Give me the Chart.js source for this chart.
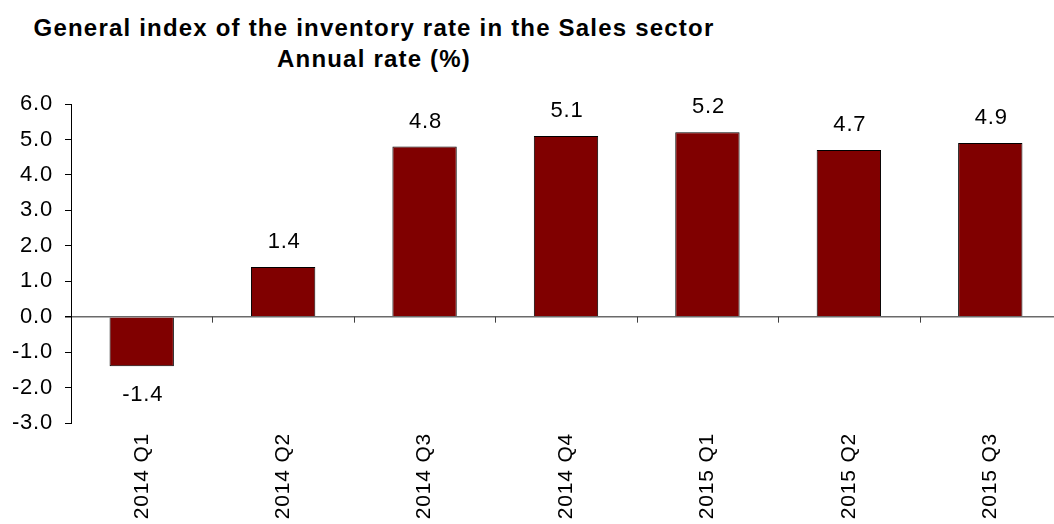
<!DOCTYPE html>
<html>
<head>
<meta charset="utf-8">
<script src="https://cdn.jsdelivr.net/npm/chart.js@4/dist/chart.umd.min.js"></script>
<style>
  html, body { margin: 0; padding: 0; background: #fff; }
  #wrap { position: relative; width: 1054px; height: 524px; }
  #title {
    position: absolute; left: 0; top: 12px; width: 748px;
    text-align: center; font-family: "Liberation Sans", Arial, sans-serif;
    font-weight: bold; font-size: 24px; line-height: 31px; color: #000;
    letter-spacing: 1.2px;
  }
  canvas { position: absolute; left: 0; top: 0; }
</style>
</head>
<body>
<div id="wrap">
  <div id="title">General index of the inventory rate in the Sales sector<br>Annual rate (%)</div>
  <canvas id="chart" width="1054" height="524"></canvas>
</div>
<script>
const categories = ["2014 Q1", "2014 Q2", "2014 Q3", "2014 Q4", "2015 Q1", "2015 Q2", "2015 Q3"];
const rateValues = [-1.4, 1.4, 4.8, 5.1, 5.2, 4.7, 4.9];
const yTicks = [-3, -2, -1, 0, 1, 2, 3, 4, 5, 6];

const FONT = { family: "'Liberation Sans', Arial, sans-serif", size: 22 };
const XFONT = { family: "'Liberation Sans', Arial, sans-serif", size: 21 };
const SPACING = "0.8px";
const OVERHANG = 7; // plot area runs a little past the right edge in the original

// wider text spacing, like the original rendering
const textSpacing = {
  id: "textSpacing",
  beforeUpdate(chart) { chart.ctx.letterSpacing = SPACING; },
  beforeDraw(chart) { chart.ctx.letterSpacing = SPACING; }
};

// let the category axis extend slightly past the canvas edge
const overhang = {
  id: "overhang",
  afterLayout(chart) {
    const xs = chart.scales.x;
    xs.right += OVERHANG;
    xs.width += OVERHANG;
    xs.configure();
    chart.chartArea.right += OVERHANG;
    chart.chartArea.width += OVERHANG;
  }
};

// value labels above / below each bar
const valueLabels = {
  id: "valueLabels",
  afterDatasetsDraw(chart) {
    const ctx = chart.ctx;
    const meta = chart.getDatasetMeta(0);
    ctx.save();
    ctx.font = `${FONT.size}px ${FONT.family}`;
    ctx.fillStyle = "#000";
    ctx.textAlign = "center";
    meta.data.forEach((bar, i) => {
      const v = rateValues[i];
      if (v >= 0) {
        ctx.textBaseline = "bottom";
        ctx.fillText(v.toFixed(1), bar.x + 1, bar.y - 14);
      } else {
        ctx.textBaseline = "top";
        ctx.fillText(v.toFixed(1), bar.x + 1, bar.y + 18);
      }
    });
    ctx.restore();
  }
};

// small tick marks between categories on the zero line
const zeroTicks = {
  id: "zeroTicks",
  afterDraw(chart) {
    const ctx = chart.ctx;
    const xs = chart.scales.x;
    const y0 = chart.scales.y.getPixelForValue(0);
    ctx.save();
    ctx.strokeStyle = "#404040";
    ctx.lineWidth = 1;
    for (let i = 1; i < categories.length; i++) {
      const x = Math.round((xs.getPixelForValue(i - 1) + xs.getPixelForValue(i)) / 2) + 0.5;
      ctx.beginPath();
      ctx.moveTo(x, y0);
      ctx.lineTo(x, y0 + 6);
      ctx.stroke();
    }
    ctx.restore();
  }
};

new Chart(document.getElementById("chart"), {
  type: "bar",
  data: {
    labels: categories,
    datasets: [{
      data: rateValues,
      backgroundColor: "#800000",
      borderColor: "#000",
      borderWidth: 1,
      barPercentage: 0.455,
      categoryPercentage: 1
    }]
  },
  options: {
    responsive: false,
    animation: false,
    layout: { padding: { top: 104, right: 0, left: 0, bottom: 0 } },
    plugins: {
      legend: { display: false },
      tooltip: { enabled: false }
    },
    scales: {
      x: {
        grid: { display: false, drawTicks: false },
        border: { display: false },
        ticks: {
          color: "#000",
          font: XFONT,
          minRotation: 90,
          maxRotation: 90,
          padding: 10
        },
        afterFit(scale) { scale.height = 101; }
      },
      y: {
        min: -3,
        max: 6,
        afterBuildTicks(scale) { scale.ticks = yTicks.map(v => ({ value: v })); },
        grid: {
          drawOnChartArea: true,
          color: ctx => ctx.tick && ctx.tick.value === 0 ? "#6a6a6a" : "rgba(0,0,0,0)",
          lineWidth: ctx => ctx.tick && ctx.tick.value === 0 ? 1.5 : 1,
          tickColor: "#000",
          tickLength: 6
        },
        border: { display: true, color: "#000", width: 1 },
        ticks: {
          color: "#000",
          font: FONT,
          padding: 12,
          callback: v => v.toFixed(1)
        },
        afterFit(scale) { scale.width = 71; }
      }
    }
  },
  plugins: [textSpacing, overhang, valueLabels, zeroTicks]
});
</script>
</body>
</html>
